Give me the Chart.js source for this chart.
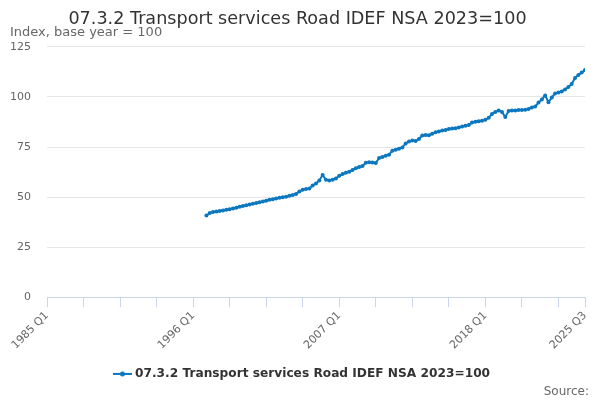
<!DOCTYPE html>
<html><head><meta charset="utf-8">
<script src="https://cdn.jsdelivr.net/npm/chart.js@4.4.1/dist/chart.umd.min.js"></script>
<style>html,body{margin:0;padding:0;background:#fff}#wrap{width:600px;height:400px}</style>
</head><body><div id="wrap"><canvas id="c" width="600" height="400"></canvas></div>
<script>
const chartTitle = '07.3.2 Transport services Road IDEF NSA 2023=100';
const chartSubtitle = 'Index, base year = 100';
const seriesName = '07.3.2 Transport services Road IDEF NSA 2023=100';
const sourceText = 'Source:';
const firstYear = 1985;          // x axis starts at 1985 Q1
const lastQuarterIndex = 162;    // 2025 Q3
const dataStartIndex = 48;       // 1997 Q1
const xTickIndices = [0, 11, 22, 33, 44, 55, 66, 77, 88, 99, 110, 121, 132, 143, 154, 162];
const xLabelIndices = [0, 44, 88, 132, 162];
const yTicks = [0, 25, 50, 75, 100, 125];
const values = [
  40.8, 42.0, 42.5, 42.8,
  43.0, 43.3, 43.6, 43.9,
  44.3, 44.7, 45.1, 45.5,
  45.9, 46.3, 46.6, 47.0,
  47.4, 47.8, 48.2, 48.6,
  48.9, 49.3, 49.6, 49.9,
  50.2, 50.6, 51.0, 51.5,
  52.8, 53.6, 54.0, 54.3,
  55.8, 56.8, 58.3, 61.0,
  58.6, 58.3, 58.6, 59.3,
  60.6, 61.5, 62.1, 62.6,
  63.5, 64.4, 65.0, 65.5,
  67.2, 67.4, 67.3, 67.0,
  69.5, 70.0, 70.7, 71.2,
  73.2, 73.6, 74.2, 74.8,
  76.8, 77.8, 78.2, 78.0,
  79.0, 80.8, 81.0, 80.9,
  81.6, 82.4, 82.8, 83.2,
  83.5, 84.0, 84.2, 84.4,
  84.8, 85.2, 85.6, 86.0,
  87.2, 87.6, 87.9, 88.1,
  88.6, 89.6, 91.5, 92.5,
  93.2, 92.5, 90.0, 93.0,
  93.2, 93.3, 93.5, 93.5,
  93.6, 94.0, 94.8, 95.2,
  97.2, 98.8, 100.8, 97.4,
  99.8, 101.8, 102.3, 102.8,
  103.8, 105.0, 106.5, 109.5,
  111.0, 112.2, 113.5
];

const lineColor = '#0a77bf';
const FONT = "'DejaVu Sans', sans-serif";
const quarterLabel = q => (firstYear + Math.floor(q / 4)) + ' Q' + (q % 4 + 1);
const points = values.map((v, i) => ({ x: dataStartIndex + i, y: v }));

// legend symbol: line with dot
const sym = document.createElement('canvas');
sym.width = 30; sym.height = 8;
(function () {
  const g = sym.getContext('2d');
  g.strokeStyle = lineColor; g.lineWidth = 2;
  g.beginPath(); g.moveTo(11, 4); g.lineTo(30, 4); g.stroke();
  g.fillStyle = lineColor; g.beginPath(); g.arc(20.5, 4, 2.5, 0, Math.PI * 2); g.fill();
})();

const sourcePlugin = {
  id: 'sourceText',
  afterDraw(chart) {
    const ctx = chart.ctx;
    ctx.save();
    ctx.font = '12px ' + FONT;
    ctx.fillStyle = '#666666';
    ctx.textAlign = 'right';
    ctx.textBaseline = 'alphabetic';
    ctx.fillText(sourceText, 589, 395);
    ctx.restore();
  }
};

new Chart(document.getElementById('c'), {
  type: 'line',
  data: {
    datasets: [{
      label: seriesName,
      data: points,
      borderColor: lineColor,
      backgroundColor: lineColor,
      borderWidth: 2,
      pointRadius: 2,
      pointBorderWidth: 0,
      pointBackgroundColor: lineColor,
      tension: 0
    }]
  },
  options: {
    responsive: false,
    animation: false,
    devicePixelRatio: 1,
    layout: { padding: { top: 10, left: 10, right: 15, bottom: 10 } },
    plugins: {
      title: {
        display: true, text: chartTitle, color: '#333333',
        font: { family: FONT, size: 17.6, weight: 'normal', lineHeight: 1.1 },
        padding: { top: 0, bottom: 0 }
      },
      subtitle: {
        display: true, text: chartSubtitle, align: 'start', color: '#666666',
        font: { family: FONT, size: 13, weight: 'normal' },
        padding: { top: -5, bottom: 7 }
      },
      legend: {
        position: 'bottom',
        labels: {
          usePointStyle: true, pointStyle: sym, pointStyleWidth: 24,
          color: '#333333', font: { family: FONT, size: 12.2, weight: 'bold' },
          padding: 14
        }
      },
      tooltip: { enabled: false }
    },
    scales: {
      x: {
        type: 'linear', min: 0, max: lastQuarterIndex,
        afterBuildTicks: axis => { axis.ticks = xTickIndices.map(v => ({ value: v })); },
        afterFit: axis => { axis.paddingLeft = 0; axis.paddingRight = 0; },
        ticks: {
          autoSkip: false, maxRotation: 45, minRotation: 45,
          color: '#666666', font: { family: FONT, size: 11 }, padding: 2,
          callback: v => xLabelIndices.includes(v) ? quarterLabel(v) : ''
        },
        grid: { drawOnChartArea: false, drawTicks: true, tickLength: 10, color: '#ccd6eb' },
        border: { display: true, color: '#ccd6eb', width: 1 }
      },
      y: {
        min: 0, max: 125,
        afterBuildTicks: axis => { axis.ticks = yTicks.map(v => ({ value: v })); },
        afterFit: axis => { axis.width = 37; },
        ticks: { color: '#666666', font: { family: FONT, size: 11 }, padding: 16 },
        grid: { color: '#e6e6e6', drawTicks: false },
        border: { display: false }
      }
    }
  },
  plugins: [sourcePlugin]
});
</script></body></html>
